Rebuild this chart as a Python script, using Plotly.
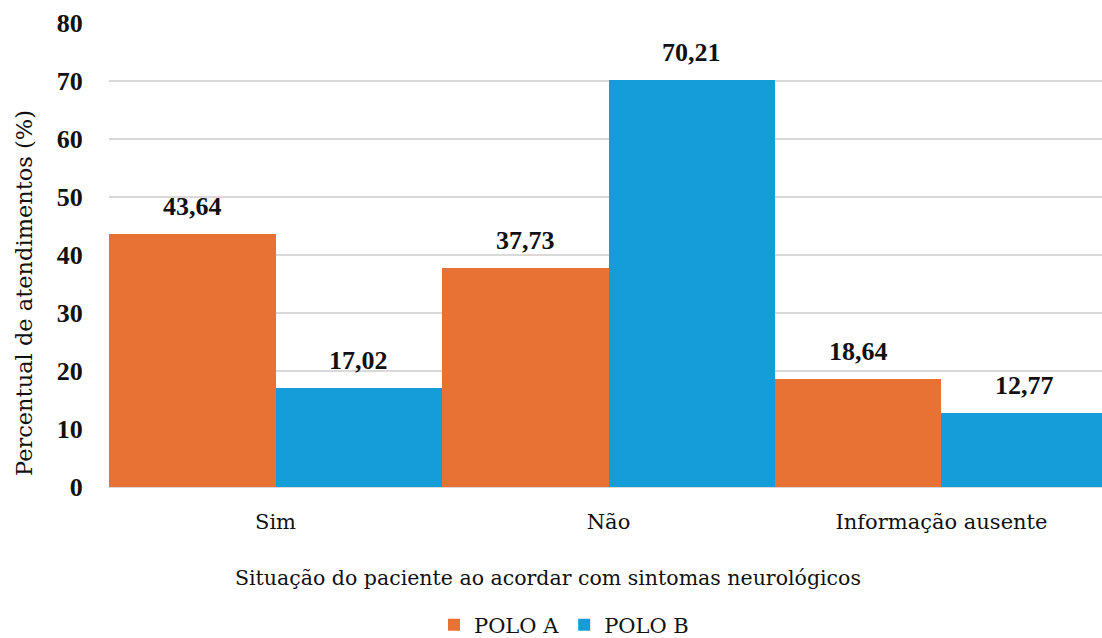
import plotly.graph_objects as go

categorias = ["Sim", "Não", "Informação ausente"]
polo_a = [43.64, 37.73, 18.64]
polo_b = [17.02, 70.21, 12.77]
rotulos_y = [0, 10, 20, 30, 40, 50, 60, 70, 80]

cor_a = "#E87234"
cor_b = "#149DD8"
fonte_negrito = "Liberation Serif"
fonte_normal = "DejaVu Serif"
preto = "#111111"

# plot area in pixels: x 109..1102, y 23..487
L, R, T, B = 109, 0, 23, 151
W, H = 1102, 638
PW, PH = W - L - R, H - T - B


def px_x(p):
    return (p - L) / PW


def px_y(p):
    return (H - B - p) / PH


def fmt(v):
    return f"{v:.2f}".replace(".", ",")


fig = go.Figure()
for nome, vals, cor in [("POLO A", polo_a, cor_a), ("POLO B", polo_b, cor_b)]:
    fig.add_trace(go.Bar(
        name=nome,
        x=categorias,
        y=vals,
        marker=dict(color=cor, line=dict(width=0)),
    ))

# value labels above each bar
meia = 333 / 4
anot = []
for vals, desloc in [(polo_a, -meia), (polo_b, meia)]:
    for cat, v in zip(categorias, vals):
        anot.append(dict(
            x=cat, y=v, xref="x", yref="y",
            text=f"<b>{fmt(v)}</b>",
            showarrow=False,
            xshift=desloc, yshift=11,
            yanchor="bottom",
            font=dict(family=fonte_negrito, size=26, color=preto),
        ))

anot.append(dict(
    x=px_x(24), y=px_y(293), xref="paper", yref="paper",
    text="Percentual de atendimentos (%)",
    textangle=-90, showarrow=False,
    xanchor="center", yanchor="middle",
    font=dict(family=fonte_normal, size=22.5, color=preto),
))
anot.append(dict(
    x=px_x(548), y=px_y(578), xref="paper", yref="paper",
    text="Situação do paciente ao acordar com sintomas neurológicos",
    showarrow=False,
    xanchor="center", yanchor="middle",
    font=dict(family=fonte_normal, size=20.5, color=preto),
))

fig.update_layout(
    width=W,
    height=H,
    margin=dict(l=L, r=R, t=T, b=B, autoexpand=False),
    paper_bgcolor="white",
    plot_bgcolor="white",
    barmode="group",
    bargap=0,
    bargroupgap=0,
    font=dict(family=fonte_normal, color=preto),
    annotations=anot,
    showlegend=True,
    legend=dict(
        orientation="h",
        x=px_x(564), xanchor="center",
        y=px_y(625), yanchor="middle",
        font=dict(family=fonte_normal, size=21, color=preto),
        itemwidth=30,
        traceorder="normal",
    ),
    xaxis=dict(
        range=[-0.5, 2.482],
        automargin=False,
        showgrid=False,
        showline=False,
        ticks="outside",
        ticklen=16,
        tickcolor="white",
        tickfont=dict(family=fonte_normal, size=21, color=preto),
    ),
    yaxis=dict(
        range=[0, 80],
        automargin=False,
        tickvals=rotulos_y,
        showgrid=True,
        gridcolor="#D9D9D9",
        gridwidth=1.5,
        zeroline=True,
        zerolinecolor="#D9D9D9",
        zerolinewidth=1.5,
        showline=False,
        ticks="outside",
        ticklen=20,
        tickcolor="white",
        tickfont=dict(family=fonte_negrito, size=26, color=preto, weight="bold"),
    ),
)

fig.write_html("out.html")
